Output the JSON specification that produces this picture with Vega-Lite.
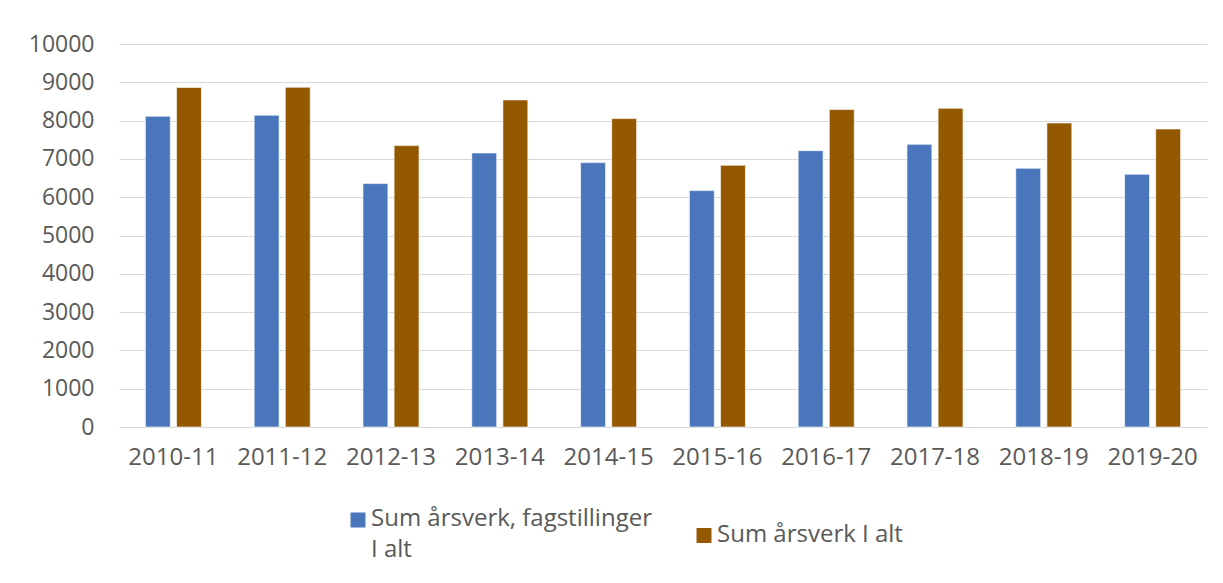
{
  "$schema": "https://vega.github.io/schema/vega-lite/v6.json",
  "autosize": {"type": "none"},
  "width": 1088,
  "height": 383,
  "padding": {"left": 119, "top": 44, "right": 16, "bottom": 156},
  "background": "#ffffff",
  "config": {
    "view": {"stroke": null},
    "font": "Open Sans",
    "style": {"guide-label": {"lineHeight": 31, "dy": 6}}
  },
  "data": {
    "values": [
      {"year": "2010-11", "serie": "Sum årsverk, fagstillinger I alt", "value": 8112},
      {"year": "2010-11", "serie": "Sum årsverk I alt", "value": 8865},
      {"year": "2011-12", "serie": "Sum årsverk, fagstillinger I alt", "value": 8140},
      {"year": "2011-12", "serie": "Sum årsverk I alt", "value": 8870},
      {"year": "2012-13", "serie": "Sum årsverk, fagstillinger I alt", "value": 6355},
      {"year": "2012-13", "serie": "Sum årsverk I alt", "value": 7347},
      {"year": "2013-14", "serie": "Sum årsverk, fagstillinger I alt", "value": 7154},
      {"year": "2013-14", "serie": "Sum årsverk I alt", "value": 8538},
      {"year": "2014-15", "serie": "Sum årsverk, fagstillinger I alt", "value": 6903},
      {"year": "2014-15", "serie": "Sum årsverk I alt", "value": 8052},
      {"year": "2015-16", "serie": "Sum årsverk, fagstillinger I alt", "value": 6172},
      {"year": "2015-16", "serie": "Sum årsverk I alt", "value": 6833},
      {"year": "2016-17", "serie": "Sum årsverk, fagstillinger I alt", "value": 7216},
      {"year": "2016-17", "serie": "Sum årsverk I alt", "value": 8287},
      {"year": "2017-18", "serie": "Sum årsverk, fagstillinger I alt", "value": 7381},
      {"year": "2017-18", "serie": "Sum årsverk I alt", "value": 8321},
      {"year": "2018-19", "serie": "Sum årsverk, fagstillinger I alt", "value": 6755},
      {"year": "2018-19", "serie": "Sum årsverk I alt", "value": 7937},
      {"year": "2019-20", "serie": "Sum årsverk, fagstillinger I alt", "value": 6598},
      {"year": "2019-20", "serie": "Sum årsverk I alt", "value": 7781}
    ]
  },
  "mark": {"type": "bar", "stroke": "#ffffff", "strokeWidth": 1, "strokeOpacity": 0.6},
  "encoding": {
    "x": {
      "field": "year",
      "type": "nominal",
      "title": null,
      "scale": {"paddingInner": 0.485, "paddingOuter": 0.2425},
      "axis": {
        "labelAngle": 0,
        "labelFont": "Open Sans",
        "labelFontSize": 24,
        "labelColor": "#595959",
        "labelPadding": 12,
        "ticks": false,
        "domainColor": "#d9d9d9",
        "domainWidth": 1
      }
    },
    "xOffset": {
      "field": "serie",
      "type": "nominal",
      "sort": ["Sum årsverk, fagstillinger I alt", "Sum årsverk I alt"],
      "scale": {"paddingInner": 0.2, "paddingOuter": 0}
    },
    "y": {
      "field": "value",
      "type": "quantitative",
      "title": null,
      "scale": {"domain": [0, 10000], "nice": false},
      "axis": {
        "values": [0, 1000, 2000, 3000, 4000, 5000, 6000, 7000, 8000, 9000, 10000],
        "format": "d",
        "labelFont": "Open Sans",
        "labelFontSize": 23,
        "labelColor": "#595959",
        "labelPadding": 25,
        "labelOffset": -6,
        "ticks": false,
        "domain": false,
        "gridColor": "#d9d9d9",
        "gridWidth": 1
      }
    },
    "color": {
      "field": "serie",
      "type": "nominal",
      "sort": ["Sum årsverk, fagstillinger I alt", "Sum årsverk I alt"],
      "scale": {
        "domain": ["Sum årsverk, fagstillinger I alt", "Sum årsverk I alt"],
        "range": ["#4a77bb", "#935800"]
      },
      "legend": {
        "title": null,
        "orient": "none",
        "legendX": 227,
        "legendY": 464,
        "direction": "horizontal",
        "columns": 2,
        "columnPadding": 40,
        "symbolType": "square",
        "symbolSize": 225,
        "symbolStrokeWidth": 0,
        "labelFont": "Open Sans",
        "labelFontSize": 24,
        "labelColor": "#595959",
        "labelOffset": 1,
        "labelLimit": 400,
        "labelBaseline": "alphabetic",
        "labelExpr": "datum.label == 'Sum årsverk, fagstillinger I alt' ? ['Sum årsverk, fagstillinger', 'I alt'] : datum.label"
      }
    }
  }
}
